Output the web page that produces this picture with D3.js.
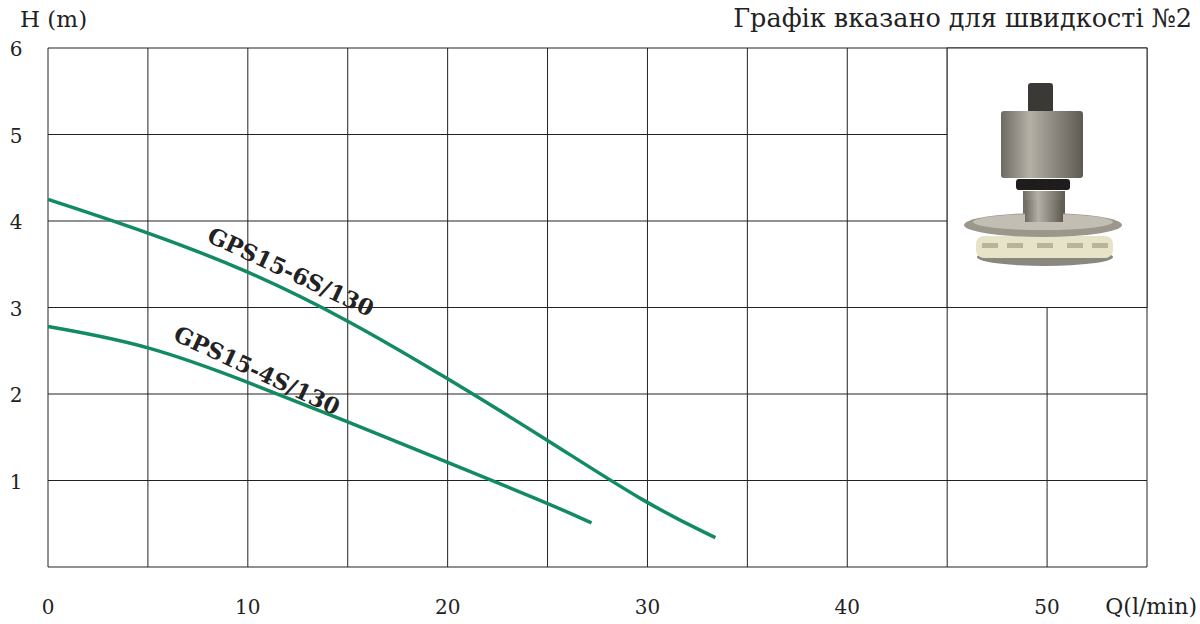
<!DOCTYPE html>
<html><head><meta charset="utf-8">
<script src="https://cdn.jsdelivr.net/npm/d3@7"></script>
<style>body{margin:0;background:#fff}</style>
</head><body><svg id="c" width="1200" height="624"></svg>
<script>
const xTicks=[0,10,20,30,40,50];
const yTicks=[1,2,3,4,5,6];
const q6=[0,5,10,15,20,25,30,33.4];
const h6=[4.25,3.87,3.43,2.86,2.18,1.47,0.72,0.34];
const q4=[0,5,10,15,20,25,27.2];
const h4=[2.78,2.57,2.14,1.68,1.21,0.74,0.51];
const names=["GPS15-6S/130","GPS15-4S/130"];
const svg=d3.select("#c");
const x=d3.scaleLinear().domain([0,55]).range([48,1147]);
const y=d3.scaleLinear().domain([0,6]).range([567,48]);
const font="DejaVu Serif, Liberation Serif, serif";
const g=svg.append("g");
d3.range(0,56,5).forEach(v=>g.append("line").attr("x1",x(v)).attr("x2",x(v)).attr("y1",y(0)).attr("y2",y(6)).attr("stroke","#222").attr("stroke-width",1));
d3.range(0,7,1).forEach(v=>g.append("line").attr("x1",x(0)).attr("x2",x(55)).attr("y1",y(v)).attr("y2",y(v)).attr("stroke","#222").attr("stroke-width",1));
const bx=x(45),by=y(6),bw=x(55)-x(45),bh=y(3)-y(6);
svg.append("rect").attr("x",bx).attr("y",by).attr("width",bw).attr("height",bh).attr("fill","#fff").attr("stroke","#222");
const p=svg.append("g");
const defs=svg.append("defs");
const lg=defs.append("linearGradient").attr("id","met");
lg.append("stop").attr("offset","0").attr("stop-color","#6e6a62");
lg.append("stop").attr("offset","0.35").attr("stop-color","#b5b0a6");
lg.append("stop").attr("offset","1").attr("stop-color","#5e5a52");
p.append("rect").attr("x",1028).attr("y",83).attr("width",25).attr("height",30).attr("rx",3).attr("fill","#3a3936");
p.append("rect").attr("x",1001).attr("y",111).attr("width",82).attr("height",67).attr("rx",3).attr("fill","url(#met)");
p.append("rect").attr("x",1016).attr("y",179).attr("width",54).attr("height",11).attr("rx",3).attr("fill","#1e1d1b");
p.append("rect").attr("x",1023).attr("y",191).attr("width",42).attr("height",30).attr("fill","url(#met)");
p.append("ellipse").attr("cx",1045).attr("cy",257).attr("rx",68).attr("ry",9).attr("fill","#8a877e");
p.append("rect").attr("x",976).attr("y",236).attr("width",137).attr("height",22).attr("rx",8).attr("fill","#e6e3c8");
[990,1015,1045,1075,1100].forEach(cx=>p.append("rect").attr("x",cx-8).attr("y",243).attr("width",16).attr("height",5).attr("fill","#b8b49a"));
p.append("ellipse").attr("cx",1043).attr("cy",225).attr("rx",79).attr("ry",12).attr("fill","#9b978d");
p.append("ellipse").attr("cx",1043).attr("cy",222).attr("rx",70).attr("ry",8).attr("fill","#c2beb4");
p.append("rect").attr("x",1025).attr("y",200).attr("width",38).attr("height",22).attr("fill","url(#met)");
const line=d3.line().x(d=>x(d[0])).y(d=>y(d[1])).curve(d3.curveBasis);
[[q6,h6],[q4,h4]].forEach(([q,h])=>svg.append("path").attr("d",line(q.map((v,i)=>[v,h[i]]))).attr("fill","none").attr("stroke","#128a63").attr("stroke-width",3.5));
const lab=[[names[0],7.9,3.77,25],[names[1],6.2,2.63,25]];
lab.forEach(([t,qv,hv,a])=>svg.append("text").attr("transform",`translate(${x(qv)},${y(hv)}) rotate(${a})`).attr("font-family",font).attr("font-weight","bold").attr("font-size",22.5).attr("fill","#222").text(t));
xTicks.forEach(v=>svg.append("text").attr("x",x(v)).attr("y",614).attr("text-anchor","middle").attr("font-family",font).attr("font-size",20).attr("fill","#222").text(v));
yTicks.forEach(v=>svg.append("text").attr("x",16).attr("y",y(v)+8).attr("text-anchor","middle").attr("font-family",font).attr("font-size",20).attr("fill","#222").text(v));
svg.append("text").attr("x",20).attr("y",27).attr("font-family",font).attr("font-size",23).attr("fill","#222").text("H (m)");
svg.append("text").attr("x",1197).attr("y",614).attr("text-anchor","end").attr("font-family",font).attr("font-size",22).attr("fill","#222").text("Q(l/min)");
svg.append("text").attr("x",1192).attr("y",27).attr("text-anchor","end").attr("font-family",font).attr("font-size",25.5).attr("fill","#222").text("Графік вказано для швидкості №2");
</script></body></html>
